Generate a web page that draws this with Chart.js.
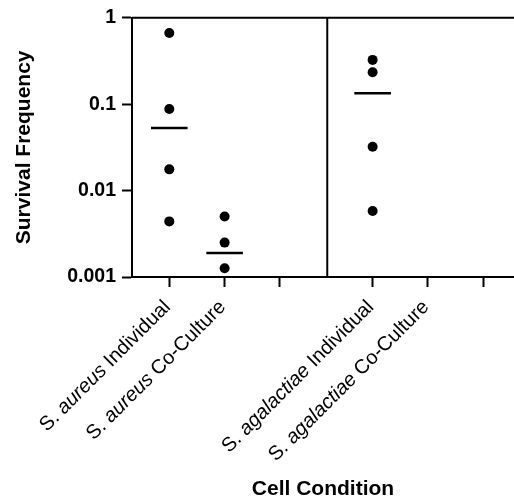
<!DOCTYPE html>
<html>
<head>
<meta charset="utf-8">
<script src="https://cdn.jsdelivr.net/npm/chart.js@4.4.1/dist/chart.umd.min.js"></script>
<style>
  html, body { margin: 0; padding: 0; background: #fff; overflow: hidden; }
</style>
</head>
<body>
<canvas id="Graphique" width="514" height="502"></canvas>
<script>
// categories on the x axis (empty ones are the unlabeled third slots)
var categories = ['S. aureus Individual', 'S. aureus Co-Culture', '', 'S. agalactiae Individual', 'S. agalactiae Co-Culture', ''];
var italicWords = ['aureus', 'agalactiae'];

// survival frequency of each replicate, one array per condition
var aureusIndividual = [0.665, 0.088, 0.0176, 0.0044];
var aureusCoCulture = [0.0050, 0.0025, 0.00126];
var agalactiaeIndividual = [0.325, 0.234, 0.0322, 0.0058];
var agalactiaeCoCulture = [];
var groupMeans = [0.053, 0.0019, null, 0.134, null, null];

var yTicks = [0.001, 0.01, 0.1, 1];

var groups = [aureusIndividual, aureusCoCulture, [], agalactiaeIndividual, agalactiaeCoCulture, []];

// gap between the two halves of the x axis
var GAP = 0.675;
var SEPARATOR = 2.855;
function xPos(i) { return i + (i >= 3 ? GAP : 0); }

var points = [];
groups.forEach(function (vals, i) {
    vals.forEach(function (v) { points.push({ x: xPos(i), y: v }); });
});
var means = [];
groupMeans.forEach(function (m, i) {
    if (m !== null) means.push({ x: xPos(i), y: m });
});

var FONT = '"Liberation Sans", Arial, Helvetica, sans-serif';
Chart.defaults.color = '#000';
Chart.defaults.font.family = FONT;

// top frame line, separator and x labels with italic species names
var framePlugin = {
    id: 'frame',
    afterDraw: function (chart) {
        var ctx = chart.ctx;
        var area = chart.chartArea;
        var xs = chart.scales.x;
        ctx.save();
        ctx.strokeStyle = '#000';
        ctx.lineWidth = 2;
        ctx.beginPath();
        ctx.moveTo(area.left, area.top);
        ctx.lineTo(area.right, area.top);
        var sx = xs.getPixelForValue(SEPARATOR);
        ctx.moveTo(sx, area.top);
        ctx.lineTo(sx, area.bottom);
        ctx.stroke();

        var regular = '20px ' + FONT;
        var italic = 'italic 20px ' + FONT;
        ctx.fillStyle = '#000';
        ctx.textBaseline = 'alphabetic';
        ctx.textAlign = 'left';
        categories.forEach(function (label, i) {
            if (!label) return;
            var words = label.split(' ');
            ctx.font = regular;
            var space = ctx.measureText(' ').width;
            var total = 0;
            var widths = words.map(function (w) {
                ctx.font = italicWords.indexOf(w) >= 0 ? italic : regular;
                var wd = ctx.measureText(w).width;
                total += wd;
                return wd;
            });
            total += space * (words.length - 1);
            ctx.save();
            ctx.translate(xs.getPixelForValue(xPos(i)) + 2, area.bottom + 31);
            ctx.rotate(-Math.PI / 4);
            var x = -total;
            words.forEach(function (w, k) {
                ctx.font = italicWords.indexOf(w) >= 0 ? italic : regular;
                ctx.fillText(w, x, 0);
                x += widths[k] + space;
            });
            ctx.restore();
        });
        ctx.restore();
    }
};

var chartObj = new Chart(document.getElementById('Graphique').getContext('2d'), {
    type: 'scatter',
    data: {
        datasets: [{
            label: 'Replicates',
            data: points,
            backgroundColor: '#000',
            borderWidth: 0,
            pointRadius: 5,
            pointHoverRadius: 5
        }, {
            label: 'Mean',
            data: means,
            pointStyle: 'line',
            borderColor: '#000',
            borderWidth: 2.5,
            pointRadius: 18.3,
            pointHoverRadius: 18.3
        }]
    },
    options: {
        responsive: false,
        animation: false,
        layout: { autoPadding: false, padding: { left: 9.4, top: 17, right: 0, bottom: 0 } },
        plugins: {
            legend: { display: false },
            tooltip: { enabled: false }
        },
        scales: {
            x: {
                type: 'linear',
                min: -0.674,
                max: 6.23,
                afterBuildTicks: function (scale) {
                    scale.ticks = categories.map(function (c, i) { return { value: xPos(i) }; });
                },
                afterFit: function (scale) { scale.height = 225; },
                ticks: { display: false },
                grid: { display: true, drawOnChartArea: false, color: '#000', tickLength: 10, tickWidth: 2 },
                border: { display: true, color: '#000', width: 2 },
                title: {
                    display: true,
                    text: 'Cell Condition',
                    font: { size: 21, weight: 'bold' },
                    padding: { top: 0, bottom: 0 }
                }
            },
            y: {
                type: 'logarithmic',
                min: 0.001,
                max: 1,
                afterBuildTicks: function (scale) {
                    scale.ticks = yTicks.map(function (v) { return { value: v }; });
                },
                afterFit: function (scale) { scale.width = 122.6; },
                ticks: {
                    font: { size: 19.5, weight: 'bold' },
                    padding: 6,
                    callback: function (v) { return String(v); }
                },
                grid: { display: true, drawOnChartArea: false, color: '#000', tickLength: 10, tickWidth: 2 },
                border: { display: true, color: '#000', width: 2 },
                title: {
                    display: true,
                    text: 'Survival Frequency',
                    font: { size: 21, weight: 'bold' },
                    padding: { top: 2, bottom: 0 }
                }
            }
        }
    },
    plugins: [framePlugin]
});
</script>
</body>
</html>
